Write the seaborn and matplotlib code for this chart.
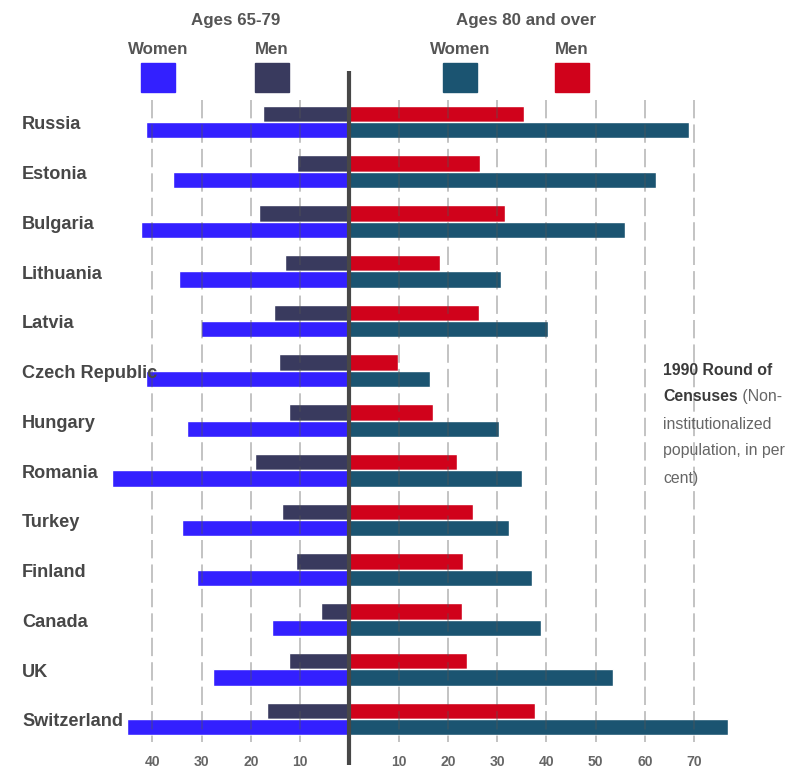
import matplotlib
matplotlib.use("Agg")
import matplotlib.pyplot as plt
import numpy as np
import pandas as pd
import seaborn as sns
from matplotlib import font_manager
from matplotlib.patches import Rectangle

countries = ["Russia", "Estonia", "Bulgaria", "Lithuania", "Latvia", "Czech Republic",
             "Hungary", "Romania", "Turkey", "Finland", "Canada", "UK", "Switzerland"]
men_65_79 = [17.6, 10.6, 18.4, 13.0, 15.2, 14.3, 12.3, 19.2, 13.6, 10.8, 5.8, 12.2, 16.7]
women_65_79 = [41.3, 35.8, 42.3, 34.6, 30.2, 41.3, 32.9, 48.2, 33.9, 31.0, 15.6, 27.6, 45.1]
men_80 = [35.5, 26.6, 31.6, 18.4, 26.4, 9.8, 17.0, 21.9, 25.2, 23.1, 22.9, 23.9, 37.7]
women_80 = [69.0, 62.3, 56.0, 30.9, 40.4, 16.3, 30.3, 35.0, 32.4, 37.0, 38.9, 53.6, 76.9]
left_ticks = [40, 30, 20, 10]
right_ticks = [10, 20, 30, 40, 50, 60, 70]

BLUE = "#3320ff"
NAVY = "#393a5e"
TEAL = "#1b5471"
RED = "#d0021b"

sns.set_style("white")
names = {f.name for f in font_manager.fontManager.ttflist}
if "Liberation Sans Narrow" in names:
    FAM, k = "Liberation Sans Narrow", 1.0
else:
    FAM, k = "Liberation Sans", 0.84
plt.rcParams["font.family"] = [FAM, "DejaVu Sans"]

W, H = 788, 771
fx = lambda px: px / W
fy = lambda py: 1 - py / H

fig = plt.figure(figsize=(W / 100, H / 100), dpi=100)
ax = fig.add_axes([0, 0, 1, 1])

left = pd.DataFrame({"country": countries * 2,
                     "value": [-v for v in men_65_79] + [-v for v in women_65_79],
                     "sex": ["Men"] * 13 + ["Women"] * 13})
right = pd.DataFrame({"country": countries * 2,
                      "value": men_80 + women_80,
                      "sex": ["Men"] * 13 + ["Women"] * 13})

sns.barplot(data=left, x="value", y="country", hue="sex", hue_order=["Men", "Women"],
            palette={"Men": NAVY, "Women": BLUE}, orient="h", width=0.66,
            errorbar=None, saturation=1, legend=False, ax=ax, zorder=2)
sns.barplot(data=right, x="value", y="country", hue="sex", hue_order=["Men", "Women"],
            palette={"Men": RED, "Women": TEAL}, orient="h", width=0.66,
            errorbar=None, saturation=1, legend=False, ax=ax, zorder=2)

# pixel mapping: zero at x=349.3, 4.925 px per unit; rows 49.75 px apart from y=122
ax.set_xlim(-349.3 / 4.925, (W - 349.3) / 4.925)
ax.set_ylim((H - 122) / 49.75, -122 / 49.75)
ax.axis("off")

for v in [-t for t in left_ticks] + right_ticks:
    ax.vlines(v, -0.44, 12.46, colors="#555555", linestyles=(0, (12, 4)),
              lw=1.1, alpha=0.45, zorder=3)
    ax.text(v, 12.86, str(abs(v)), ha="center", va="center", fontsize=12 * k,
            fontweight="bold", color="#666666")
ax.vlines(0, -1.025, 12.92, colors="#474747", lw=3, zorder=4)

for i, c in enumerate(countries):
    ax.text(fx(22), i + 0.06, c, transform=ax.get_yaxis_transform(), ha="left",
            va="center", fontsize=15.5 * k, fontweight="bold", color="#474747", zorder=5)

# legend
fig.text(fx(236), fy(20), "Ages 65-79", ha="center", va="center", fontsize=14.5 * k,
         fontweight="bold", color="#555555")
fig.text(fx(526), fy(20), "Ages 80 and over", ha="center", va="center", fontsize=14.5 * k,
         fontweight="bold", color="#555555")
for cx, lab, col in [(158, "Women", BLUE), (272, "Men", NAVY),
                     (460, "Women", TEAL), (572, "Men", RED)]:
    fig.text(fx(cx), fy(49), lab, ha="center", va="center", fontsize=14.5 * k,
             fontweight="bold", color="#555555")
    fig.patches.append(Rectangle((fx(cx - 17), fy(92)), 34 / W, 29 / H,
                                 transform=fig.transFigure, color=col))

# note
note_x = fx(663)
fig.text(note_x, fy(370), "1990 Round of", ha="left", va="center", fontsize=13.6 * k,
         fontweight="bold", color="#3a3a3a")
t1 = fig.text(note_x, fy(397), "Censuses", ha="left", va="center", fontsize=13.6 * k,
              fontweight="bold", color="#3a3a3a")
ax.annotate(" (Non-", xy=(1, 0), xycoords=t1, ha="left", va="bottom",
            fontsize=13.6 * k, color="#666666")
for py, line in [(424, "institutionalized"), (451, "population, in per"), (478, "cent)")]:
    fig.text(note_x, fy(py), line, ha="left", va="center", fontsize=13.6 * k,
             color="#666666")

fig.savefig("out.png", dpi=100)
